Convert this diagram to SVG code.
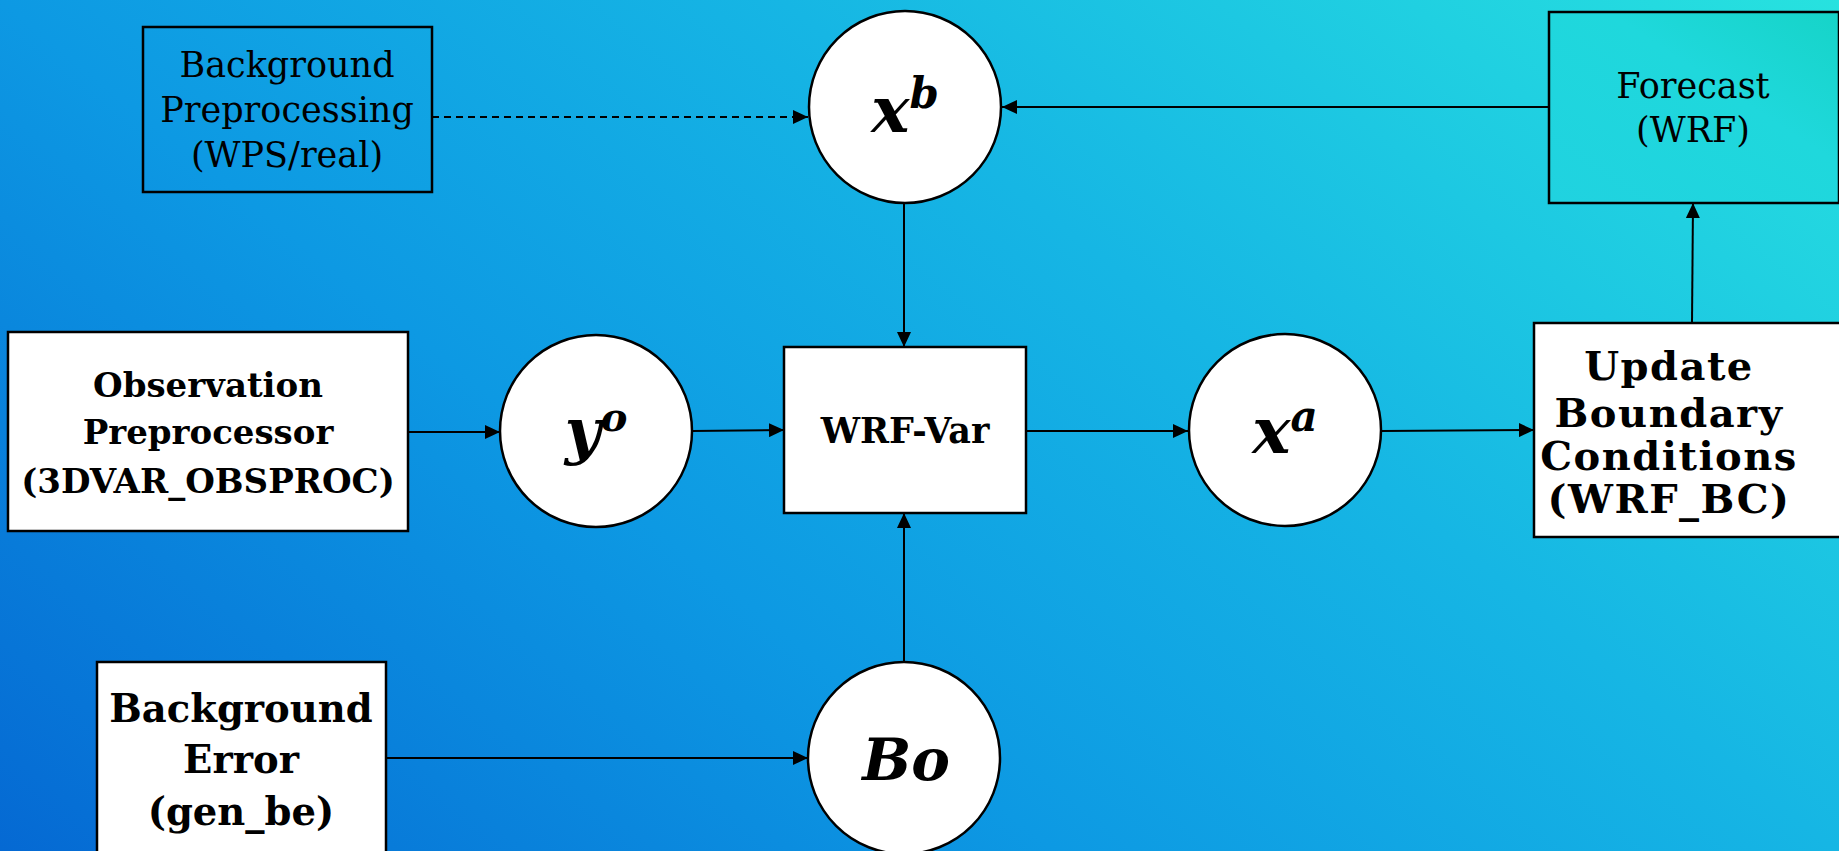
<svg xmlns="http://www.w3.org/2000/svg" width="1839" height="851" viewBox="0 0 1839 851">
<defs>
<linearGradient id="bg" gradientUnits="userSpaceOnUse" x1="0" y1="851" x2="1140" y2="-563">
<stop offset="0" stop-color="#0569d3"/>
<stop offset="0.365" stop-color="#0d99e3"/>
<stop offset="0.635" stop-color="#16b6e4"/>
<stop offset="1" stop-color="#27e2df"/>
</linearGradient>
<linearGradient id="fc" x1="0" y1="1" x2="1" y2="0">
<stop offset="0" stop-color="#20d2e0"/>
<stop offset="0.6" stop-color="#1fd8dc"/>
<stop offset="1" stop-color="#16d4c8"/>
</linearGradient>
<marker id="ah" markerUnits="userSpaceOnUse" markerWidth="16" markerHeight="14" refX="15" refY="7" orient="auto">
<path d="M0,0 L15,7 L0,14 z" fill="#000"/>
</marker>
</defs>
<style>
.box{stroke:#000;stroke-width:2.5}
.circ{fill:#fff;stroke:#000;stroke-width:2.5}
.edge{stroke:#000;stroke-width:2;fill:none;marker-end:url(#ah)}
.dash{stroke-dasharray:7 5}
.reg{font-family:"DejaVu Serif","Liberation Serif",serif;font-size:35px;fill:#000;text-anchor:middle}
.bold{font-family:"DejaVu Serif","Liberation Serif",serif;font-weight:bold;fill:#000;text-anchor:middle}
.math{font-family:"DejaVu Serif","Liberation Serif",serif;font-weight:bold;font-style:italic;fill:#000}
</style>
<rect x="0" y="0" width="1839" height="851" fill="url(#bg)"/>

<g id="connectors">
<line class="edge dash" x1="432" y1="117" x2="808" y2="117"/>
<line class="edge" x1="1549" y1="107" x2="1002" y2="107"/>
<line class="edge" x1="904" y1="203" x2="904" y2="347"/>
<line class="edge" x1="408" y1="432" x2="500" y2="432"/>
<line class="edge" x1="692" y1="431" x2="784" y2="430"/>
<line class="edge" x1="1026" y1="431" x2="1188" y2="431"/>
<line class="edge" x1="1382" y1="431" x2="1534" y2="430"/>
<line class="edge" x1="1692" y1="323" x2="1693" y2="203"/>
<line class="edge" x1="904" y1="661" x2="904" y2="513"/>
<line class="edge" x1="386" y1="758" x2="808" y2="758"/>
</g>

<g id="bg-preprocessing">
<rect class="box" x="143" y="27" width="289" height="165" fill="none"/>
<text class="reg" x="287" y="77">Background</text>
<text class="reg" x="287" y="122">Preprocessing</text>
<text class="reg" x="287" y="167">(WPS/real)</text>
</g>

<g id="xb">
<circle class="circ" cx="905" cy="107" r="96"/>
<text class="math" x="905" y="132" text-anchor="middle"><tspan font-size="64">x</tspan><tspan font-size="42" dy="-24">b</tspan></text>
</g>

<g id="forecast">
<rect class="box" x="1549" y="12" width="290" height="191" fill="url(#fc)"/>
<text class="reg" x="1693" y="98">Forecast</text>
<text class="reg" x="1693" y="142">(WRF)</text>
</g>

<g id="obs-preproc">
<rect class="box" x="8" y="332" width="400" height="199" fill="#fff"/>
<text class="bold" x="208" y="397" font-size="34">Observation</text>
<text class="bold" x="208" y="444" font-size="34">Preprocessor</text>
<text class="bold" x="208" y="493" font-size="34">(3DVAR_OBSPROC)</text>
</g>

<g id="yo">
<circle class="circ" cx="596" cy="431" r="96"/>
<text class="math" x="596" y="452" text-anchor="middle"><tspan font-size="62">y</tspan><tspan font-size="40" dy="-21">o</tspan></text>
</g>

<g id="wrfvar">
<rect class="box" x="784" y="347" width="242" height="166" fill="#fff"/>
<text class="bold" x="905" y="443" font-size="35">WRF-Var</text>
</g>

<g id="xa">
<circle class="circ" cx="1285" cy="430" r="96"/>
<text class="math" x="1285" y="453" text-anchor="middle"><tspan font-size="64">x</tspan><tspan font-size="42" dy="-22">a</tspan></text>
</g>

<g id="update-bc">
<rect class="box" x="1534" y="323" width="320" height="214" fill="#fff"/>
<text class="bold" x="1669" y="380" font-size="40" letter-spacing="1.5">Update</text>
<text class="bold" x="1669" y="427" font-size="40" letter-spacing="1.5">Boundary</text>
<text class="bold" x="1669" y="470" font-size="40" letter-spacing="1.5">Conditions</text>
<text class="bold" x="1669" y="513" font-size="40" letter-spacing="1.5">(WRF_BC)</text>
</g>

<g id="bg-error">
<rect class="box" x="97" y="662" width="289" height="200" fill="#fff"/>
<text class="bold" x="241" y="722" font-size="38.5">Background</text>
<text class="bold" x="241" y="773" font-size="38.5">Error</text>
<text class="bold" x="241" y="825" font-size="38.5">(gen_be)</text>
</g>

<g id="bo">
<circle class="circ" cx="904" cy="758" r="96"/>
<text class="math" x="906" y="780" text-anchor="middle" font-size="58">Bo</text>
</g>
</svg>
